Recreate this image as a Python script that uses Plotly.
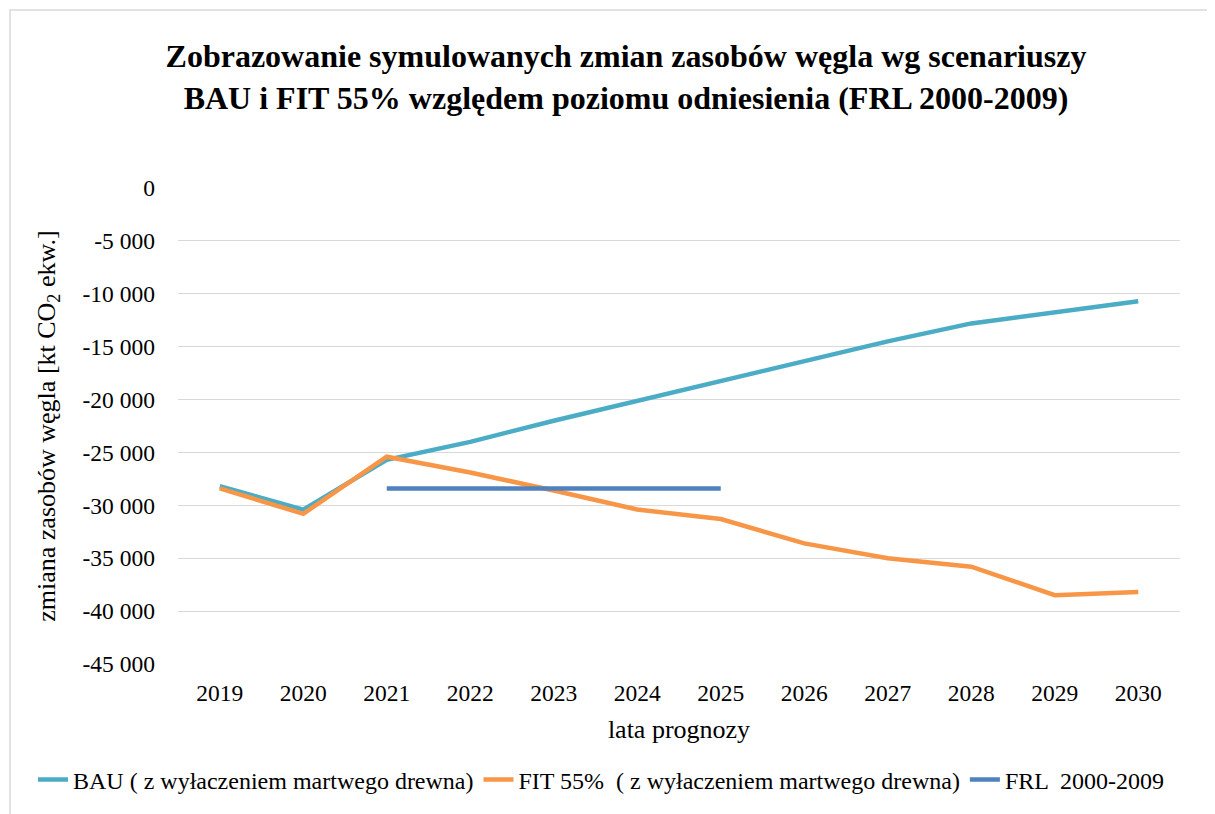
import plotly.graph_objects as go

years = ["2019", "2020", "2021", "2022", "2023", "2024", "2025", "2026", "2027", "2028", "2029", "2030"]
bau = [-28200, -30400, -25700, -24000, -22000, -20100, -18300, -16400, -14500, -12800, -11700, -10700]
fit55 = [-28400, -30800, -25400, -26900, -28600, -30400, -31300, -33600, -35000, -35800, -38500, -38200]
frl_years = ["2021", "2022", "2023", "2024", "2025"]
frl = [-28400, -28400, -28400, -28400, -28400]
y_ticks = [0, -5000, -10000, -15000, -20000, -25000, -30000, -35000, -40000, -45000]
y_tick_labels = ["0", "-5 000", "-10 000", "-15 000", "-20 000", "-25 000", "-30 000", "-35 000", "-40 000", "-45 000"]

FONT = "Liberation Serif, Times New Roman, serif"

# figure is offset by the page's 8px body margin
W, H = 1207, 806
L, R, T, B = 170, 35, 180, 150
PW, PH = W - L - R, H - T - B


def px_x(p):
    return (p - L) / PW


def px_y(p):
    return (H - B - p) / PH


fig = go.Figure()
fig.add_trace(go.Scatter(x=years, y=bau, mode="lines", name="BAU ( z wyłaczeniem martwego drewna)",
                         line=dict(color="#4BACC6", width=4.5)))
fig.add_trace(go.Scatter(x=years, y=fit55, mode="lines", name="FIT 55%  ( z wyłaczeniem martwego drewna)",
                         line=dict(color="#F79646", width=4.5)))
fig.add_trace(go.Scatter(x=frl_years, y=frl, mode="lines", name="FRL  2000-2009",
                         line=dict(color="#4F81BD", width=4.5)))

fig.update_layout(
    width=W, height=H,
    paper_bgcolor="white", plot_bgcolor="white",
    margin=dict(l=L, r=R, t=T, b=B),
    font=dict(family=FONT, size=24, color="#000000"),
    title=dict(
        text="<b>Zobrazowanie symulowanych zmian zasobów węgla wg scenariuszy<br>BAU i FIT 55% względem poziomu odniesienia (FRL 2000-2009)</b>",
        font=dict(family=FONT, size=32, color="#000000"),
        x=618 / W, xanchor="center", xref="container",
        y=1 - 59 / H, yanchor="top", yref="container",
    ),
    xaxis=dict(
        type="category", categoryorder="array", categoryarray=years,
        range=[-0.5, 11.5], automargin=False,
        showgrid=False, showline=False, ticks="", ticklabelstandoff=12,
        tickfont=dict(family=FONT, size=23.5, color="#000000"),
        title=dict(text="lata prognozy", font=dict(family=FONT, size=26, color="#000000"), standoff=15),
    ),
    yaxis=dict(
        range=[-45000, 0], automargin=False,
        tickvals=y_ticks, ticktext=y_tick_labels,
        showgrid=True, gridcolor="#D9D9D9", gridwidth=1.3,
        zeroline=False, showline=False, ticks="", ticklabelstandoff=22,
        tickfont=dict(family=FONT, size=23.5, color="#000000"),
        title=dict(text="zmiana zasobów węgla [kt CO<sub>2</sub> ekw.]",
                   font=dict(family=FONT, size=26, color="#000000"), standoff=19),
    ),
    legend=dict(
        orientation="h", x=px_x(25), xanchor="left",
        y=px_y(772), yanchor="middle",
        font=dict(family=FONT, size=24, color="#000000"),
        bgcolor="rgba(0,0,0,0)", itemwidth=30, tracegroupgap=0,
    ),
    shapes=[dict(type="rect", xref="paper", yref="paper",
                 x0=px_x(2), x1=px_x(W + 20),
                 y0=px_y(H + 20), y1=px_y(2),
                 line=dict(color="#D9D9D9", width=1.5), fillcolor="rgba(0,0,0,0)", layer="below")],
)

fig.write_html("out.html")
